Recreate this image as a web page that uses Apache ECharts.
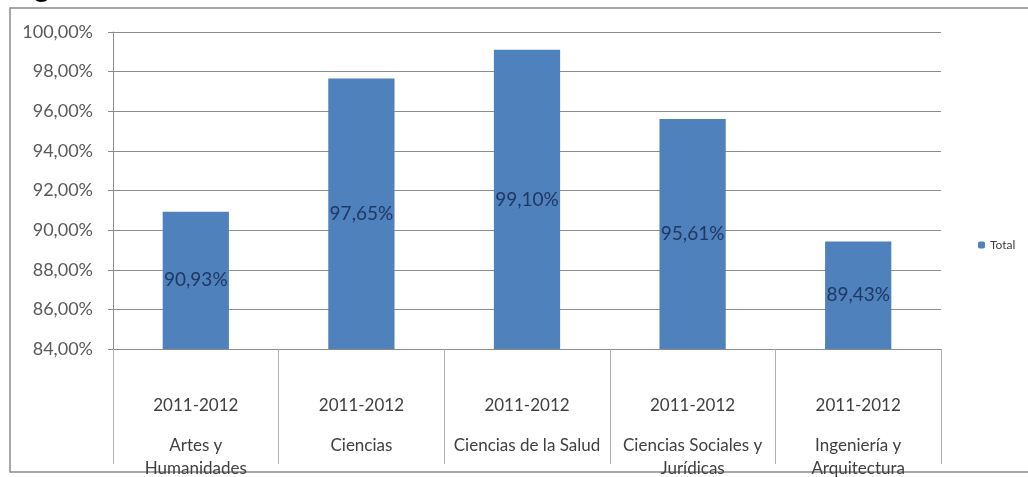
<!DOCTYPE html>
<html>
<head>
<meta charset="utf-8">
<script src="https://cdn.jsdelivr.net/npm/echarts@6/dist/echarts.min.js"></script>
<style>
html,body{margin:0;padding:0;background:#fff;overflow:hidden;}
#chart{width:1028px;height:477px;}
</style>
</head>
<body>
<div id="chart"></div>
<script>
var periods = ['2011-2012','2011-2012','2011-2012','2011-2012','2011-2012'];
var categories = ['Artes y\nHumanidades','Ciencias','Ciencias de la Salud','Ciencias Sociales y\nJurídicas','Ingeniería y\nArquitectura'];
var totalValues = [90.93, 97.65, 99.10, 95.61, 89.43];
var seriesName = 'Total';
var yMin = 84, yMax = 100, yStep = 2;

function pct(v){ return v.toFixed(2).replace('.', ',') + '%'; }

var chart = echarts.init(document.getElementById('chart'), null, { width: 1028, height: 477 });
var FONT = 'Lato';

chart.setOption({
  animation: false,
  textStyle: { fontFamily: FONT },
  graphic: [
    { type: 'text', left: 6, top: -27, style: { text: 'Fig', font: 'bold 30px Liberation Sans', fill: '#000' } },
    { type: 'rect', shape: { x: 10, y: 8, width: 1040, height: 464 }, style: { fill: 'none', stroke: '#8a8a8a', lineWidth: 1.5 }, z: -1 }
  ],
  grid: { left: 113, width: 828, top: 32, height: 323, containLabel: false },
  legend: {
    data: [seriesName], left: 973, top: 234, orient: 'vertical',
    itemWidth: 7, itemHeight: 7, itemGap: 4,
    textStyle: { fontSize: 12, color: '#404040', fontFamily: FONT }
  },
  xAxis: {
    type: 'category',
    data: categories,
    axisLine: { show: true, lineStyle: { color: '#8c8c8c', width: 1 } },
    axisTick: { show: true, length: 115, interval: 0, lineStyle: { color: '#b0b0b0' } },
    axisLabel: {
      interval: 0, margin: 28,
      formatter: function(v, i){
        var lines = v.split('\n');
        return '{p|' + periods[i] + '}\n' + lines.map(function(l){ return '{n|' + l + '}'; }).join('\n');
      },
      rich: {
        p: { fontSize: 17, lineHeight: 57, color: '#404040', fontFamily: FONT },
        n: { fontSize: 17, lineHeight: 23, color: '#404040', fontFamily: FONT }
      }
    }
  },
  yAxis: {
    type: 'value', min: yMin, max: yMax, interval: yStep,
    axisLine: { show: true, lineStyle: { color: '#8c8c8c' } },
    axisTick: { show: true, length: 5, lineStyle: { color: '#8c8c8c' } },
    splitLine: { lineStyle: { color: '#8c8c8c' } },
    axisLabel: { margin: 20, fontSize: 18, color: '#595959', fontFamily: FONT, formatter: function(v){ return pct(v); } }
  },
  series: [{
    name: seriesName, type: 'bar', data: totalValues,
    barCategoryGap: '60%',
    itemStyle: { color: '#4f81bd' },
    label: { show: true, position: 'inside', fontSize: 19, color: '#1f3864', fontFamily: FONT, formatter: function(p){ return pct(p.value); } }
  }]
});
</script>
</body>
</html>
